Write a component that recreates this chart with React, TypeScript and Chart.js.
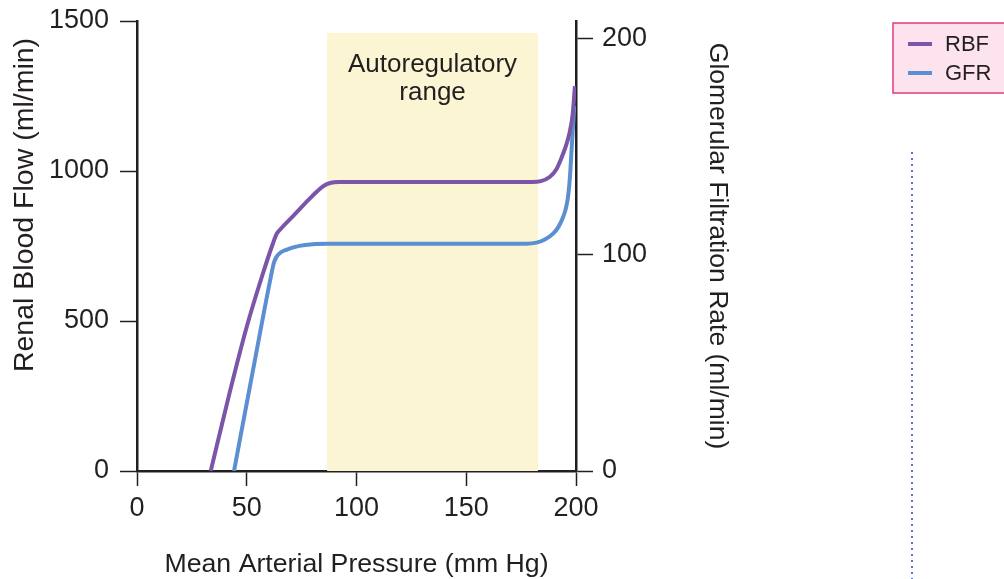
import React, { useEffect, useRef } from 'react';
import { Chart, registerables } from 'chart.js';

Chart.register(...registerables);

// ---- Data ----
const rbfPressure = [33.6, 42, 50, 57, 62, 63.6, 65.5, 71, 78, 82, 85, 88, 92, 150, 180, 184, 188, 191, 193, 195, 197, 198.5, 199.5];
const rbfValues = [0, 255, 481, 650, 760, 790, 807, 849, 903, 932, 950, 960, 963, 963, 963, 966, 980, 1005, 1037, 1075, 1125, 1190, 1283];

const gfrPressure = [44.2, 53, 61, 62.4, 63.5, 65, 68, 74, 80, 87, 150, 177.5, 182, 186, 189.7, 192, 194.2, 195.5, 196.5, 197.3, 198, 198.6, 199.2];
const gfrValues = [0, 47.5, 90, 96.5, 99, 100.8, 102.4, 104.2, 105, 105.2, 105.2, 105.2, 105.7, 107.3, 110, 113, 117.7, 122, 128, 137, 149, 159, 169];

const shadeRange = [86.6, 182.7]; // autoregulatory range, mm Hg
const shadeTop = [1460];
const annotationLines = ['Autoregulatory', 'range'];

const xTicks = [0, 50, 100, 150, 200];
const rbfTicks = [0, 500, 1000, 1500];
const gfrTicks = [0, 100, 200];

const seriesLabels = ['RBF', 'GFR'];

// ---- Styles ----
const TEXT = '#231f20';
const FONT = '"Liberation Sans", Arial, Helvetica, sans-serif';
const PURPLE = '#7b55a8';
const BLUE = '#5b8fd1';
const SHADE = '#fbf5d3';

const overlayPlugin = {
  id: 'overlay',
  afterDraw(chart: any) {
    const { ctx, scales } = chart;
    const x = scales.x;
    const y = scales.y;
    ctx.save();

    // Annotation inside shaded region
    const cx = x.getPixelForValue((shadeRange[0] + shadeRange[1]) / 2);
    const top = y.getPixelForValue(shadeTop[0]);
    ctx.fillStyle = TEXT;
    ctx.font = `26px ${FONT}`;
    ctx.textAlign = 'center';
    ctx.textBaseline = 'alphabetic';
    annotationLines.forEach((t, i) => ctx.fillText(t, cx, top + 39 + i * 28));

    // Left axis title
    ctx.save();
    ctx.translate(25, 205);
    ctx.rotate(-Math.PI / 2);
    ctx.font = `28.5px ${FONT}`;
    ctx.textAlign = 'center';
    ctx.textBaseline = 'middle';
    ctx.fillText('Renal Blood Flow (ml/min)', 0, 0);
    ctx.restore();

    // Legend box
    ctx.fillStyle = '#fde3ee';
    ctx.strokeStyle = '#e3387f';
    ctx.lineWidth = 1.5;
    ctx.fillRect(893, 23, 120, 70);
    ctx.strokeRect(893, 23, 120, 70);
    const legendDs = chart.data.datasets.filter((d: any) => seriesLabels.includes(d.label));
    legendDs.forEach((d: any, i: number) => {
      const ly = 44 + i * 29;
      ctx.strokeStyle = d.borderColor;
      ctx.lineWidth = 4;
      ctx.beginPath();
      ctx.moveTo(908, ly);
      ctx.lineTo(932, ly);
      ctx.stroke();
      ctx.fillStyle = TEXT;
      ctx.font = `22px ${FONT}`;
      ctx.textAlign = 'left';
      ctx.textBaseline = 'middle';
      ctx.fillText(d.label, 945, ly + 1);
    });

    // Dotted vertical line
    ctx.strokeStyle = '#5b73c8';
    ctx.lineWidth = 2;
    ctx.setLineDash([2, 4]);
    ctx.beginPath();
    ctx.moveTo(912, 152);
    ctx.lineTo(912, 579);
    ctx.stroke();

    ctx.restore();
  },
};

const plain = (v: any) => String(v);

export default function App() {
  const canvasRef = useRef<HTMLCanvasElement | null>(null);

  useEffect(() => {
    if (!canvasRef.current) return;
    const chart = new Chart(canvasRef.current, {
      type: 'line',
      data: {
        datasets: [
          {
            label: 'RBF',
            data: rbfPressure.map((p, i) => ({ x: p, y: rbfValues[i] })),
            borderColor: PURPLE,
            borderWidth: 4,
            pointRadius: 0,
            cubicInterpolationMode: 'monotone',
            yAxisID: 'y',
            order: 1,
          },
          {
            label: 'GFR',
            data: gfrPressure.map((p, i) => ({ x: p, y: gfrValues[i] })),
            borderColor: BLUE,
            borderWidth: 4,
            pointRadius: 0,
            cubicInterpolationMode: 'monotone',
            yAxisID: 'y1',
            order: 1,
          },
          {
            label: 'Autoregulatory range',
            data: shadeRange.map((p) => ({ x: p, y: shadeTop[0] })),
            borderWidth: 0,
            borderColor: 'rgba(0,0,0,0)',
            backgroundColor: SHADE,
            fill: 'origin',
            pointRadius: 0,
            tension: 0,
            yAxisID: 'y',
            order: 10,
          },
        ],
      },
      options: {
        animation: false,
        responsive: false,
        maintainAspectRatio: false,
        layout: { padding: { left: 0, top: 21, right: 268, bottom: 0 } },
        plugins: {
          legend: { display: false },
          tooltip: { enabled: false },
        },
        scales: {
          x: {
            type: 'linear',
            position: 'bottom',
            min: 0,
            max: 200,
            afterFit: (s: any) => { s.height = 108; },
            afterBuildTicks: (s: any) => { s.ticks = xTicks.map((v) => ({ value: v })); },
            ticks: { font: { family: FONT, size: 27 }, color: TEXT, padding: 6, callback: plain },
            grid: { drawOnChartArea: false, tickLength: 15, tickWidth: 1.5, tickColor: TEXT },
            border: { color: TEXT, width: 2.5 },
            title: {
              display: true,
              text: 'Mean Arterial Pressure (mm Hg)',
              font: { family: FONT, size: 26.7 },
              color: TEXT,
              padding: { top: 0, bottom: -2 },
            },
          },
          y: {
            type: 'linear',
            position: 'left',
            min: 0,
            max: 1500,
            afterFit: (s: any) => { s.width = 137; s.paddingTop = 0; s.paddingBottom = 0; },
            afterBuildTicks: (s: any) => { s.ticks = rbfTicks.map((v) => ({ value: v })); },
            ticks: { font: { family: FONT, size: 27 }, color: TEXT, padding: 11, callback: plain },
            grid: { drawOnChartArea: false, tickLength: 17, tickWidth: 1.5, tickColor: TEXT },
            border: { color: TEXT, width: 2.5 },
          },
          y1: {
            type: 'linear',
            position: 'right',
            min: 0,
            max: 208.3,
            afterFit: (s: any) => { s.width = 160; s.paddingTop = 0; s.paddingBottom = 0; },
            afterBuildTicks: (s: any) => { s.ticks = gfrTicks.map((v) => ({ value: v })); },
            ticks: { font: { family: FONT, size: 27 }, color: TEXT, padding: 9, callback: plain },
            grid: { drawOnChartArea: false, tickLength: 17, tickWidth: 1.5, tickColor: TEXT },
            border: { color: TEXT, width: 2.5 },
            title: {
              display: true,
              text: 'Glomerular Filtration Rate (ml/min)',
              font: { family: FONT, size: 26.5 },
              color: TEXT,
              padding: { top: 3, bottom: 0 },
            },
          },
        },
      } as any,
      plugins: [overlayPlugin],
    });
    return () => chart.destroy();
  }, []);

  return (
    <div style={{ position: 'absolute', left: 0, top: 0, width: 1004, height: 579, background: '#fff' }}>
      <canvas ref={canvasRef} width={1004} height={579} />
    </div>
  );
}
